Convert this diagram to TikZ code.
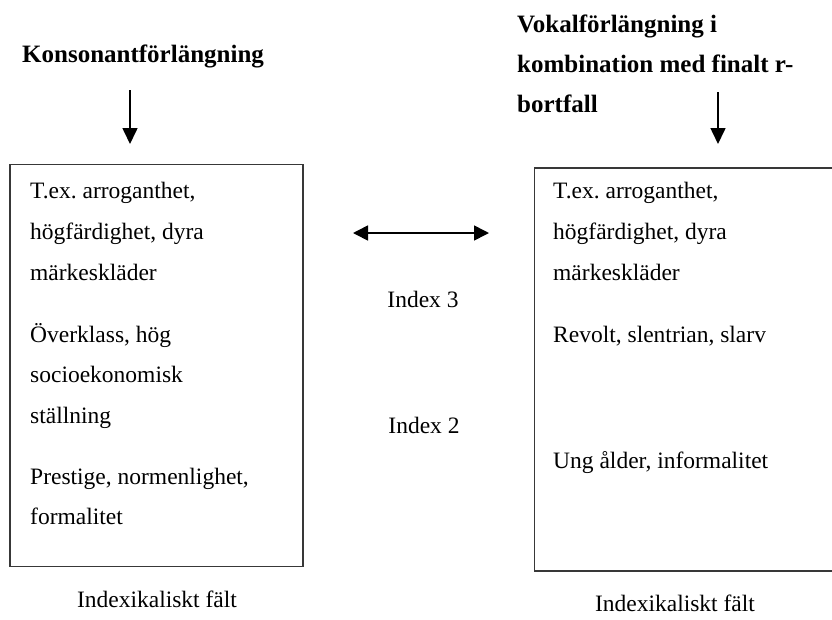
\documentclass[tikz,border=0pt]{standalone}
\usepackage{fontspec}
\setmainfont{Liberation Serif}
\frenchspacing
\usetikzlibrary{arrows.meta}
\tikzset{
  txt/.style={anchor=base west, inner sep=0pt, font=\fontsize{23.5}{28}\selectfont},
  ctxt/.style={anchor=base, inner sep=0pt, font=\fontsize{23.5}{28}\selectfont},
  ttl/.style={anchor=base west, inner sep=0pt, font=\fontsize{25}{30}\selectfont\bfseries},
  fieldbox/.style={draw=black!78, line width=1.6pt},
  arr/.style={line width=1.6pt, -{Triangle[length=16pt,width=15pt]}},
  darr/.style={line width=1.6pt, {Triangle[length=15pt,width=15pt]}-{Triangle[length=15pt,width=15pt]}}
}
\begin{document}
\begin{tikzpicture}[x=1pt,y=-1pt]
\useasboundingbox (0,0) rectangle (832,619);
\clip (0,0) rectangle (832,619);
% titles
\node[ttl] (t1) at (22,62) {Konsonantförlängning};
\node[ttl] (t2a) at (517,32) {Vokalförlängning i};
\node[ttl] (t2b) at (517,72) {kombination med finalt r-};
\node[ttl] (t2c) at (517,112) {bortfall};
% arrows down
\coordinate (a1s) at (130,90);
\coordinate (a1e) at (130,144);
\coordinate (a2s) at (718,92);
\coordinate (a2e) at (718,144);
\draw[arr] (a1s) -- (a1e);
\draw[arr] (a2s) -- (a2e);
% boxes
\node[fieldbox, minimum width=293pt, minimum height=402pt, anchor=north west, inner sep=0pt] (b1) at (9,163.5) {};
\node[fieldbox, minimum width=320pt, minimum height=403pt, anchor=north west, inner sep=0pt] (b2) at (533.5,167) {};
% left box text
\node[txt] (l1) at (30,198) {T.ex. arroganthet,};
\node[txt] (l2) at (30,239) {högfärdighet, dyra};
\node[txt] (l3) at (30,280) {märkeskläder};
\node[txt] (l4) at (30,342) {Överklass, hög};
\node[txt] (l5) at (30,382) {socioekonomisk};
\node[txt] (l6) at (30,423) {ställning};
\node[txt] (l7) at (30,484) {Prestige, normenlighet,};
\node[txt] (l8) at (30,524) {formalitet};
% right box text
\node[txt] (r1) at (553,198) {T.ex. arroganthet,};
\node[txt] (r2) at (553,239) {högfärdighet, dyra};
\node[txt] (r3) at (553,280) {märkeskläder};
\node[txt] (r4) at (553,342) {Revolt, slentrian, slarv};
\node[txt] (r5) at (553,468) {Ung ålder, informalitet};
% middle
\coordinate (dl) at (353,233);
\coordinate (dr) at (489,233);
\draw[darr] (dl) -- (dr);
\node[ctxt] (i3) at (423,307) {Index 3};
\node[ctxt] (i2) at (424,433) {Index 2};
% labels
\node[ctxt] (f1) at (157,607) {Indexikaliskt fält};
\node[ctxt] (f2) at (675,611) {Indexikaliskt fält};
\end{tikzpicture}
\end{document}
